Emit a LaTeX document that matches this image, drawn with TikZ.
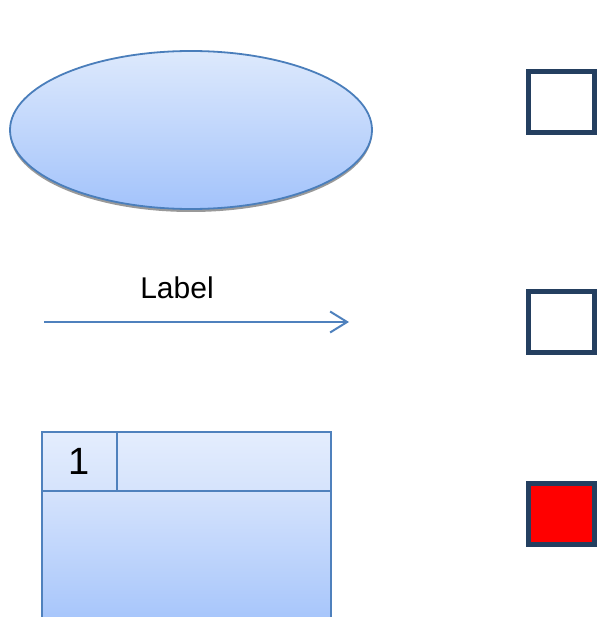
\documentclass[tikz,border=0pt]{standalone}
\usepackage{fontspec}
\setmainfont{Liberation Sans}
\usetikzlibrary{shapes.geometric,shadows,arrows.meta}
\definecolor{umlline}{HTML}{4A7EBB}
\definecolor{umlblue}{HTML}{4F81BD}
\definecolor{navy}{HTML}{243F60}
\definecolor{filltop}{HTML}{DDE9FC}
\definecolor{fillbot}{HTML}{A3C3FB}
\definecolor{headtop}{HTML}{E4EDFD}
\definecolor{headbot}{HTML}{D5E3FC}
\tikzset{
  cell/.style={draw=umlblue, line width=2pt, rectangle, inner sep=0pt, outer sep=0pt, anchor=north west},
  swatch/.style={draw=navy, line width=5pt, rectangle, fill=white, minimum width=66pt, minimum height=61pt}
}
\begin{document}
\begin{tikzpicture}[x=1pt,y=-1pt]
		
		\useasboundingbox (0,0) rectangle (597,617);
		\clip (0,0) rectangle (597,617);
		
		% use case ellipse
		\node[ellipse, draw=umlline, line width=1.8pt, minimum width=362pt, minimum height=158pt,
		      top color=filltop, bottom color=fillbot,
		      drop shadow={shadow xshift=0pt, shadow yshift=-3pt, fill=gray, opacity=0.8}] (usecase) at (191,130) {};
		
		% association with label
		\coordinate (src) at (44,322);
		\coordinate (dst) at (349,322);
		\draw[umlblue, line width=2pt, -{Straight Barb[length=17pt,width=21pt]}] (src) -- (dst);
		\node[anchor=base, inner sep=0pt] (lbl) at (177,298) {\fontsize{30}{36}\selectfont Label};
		
		% table
		\node[cell, minimum width=75pt, minimum height=59pt, top color=headtop, bottom color=headbot] (num) at (42,432) {\fontsize{38}{44}\selectfont 1};
		\node[cell, minimum width=214pt, minimum height=59pt, top color=headtop, bottom color=headbot] (head) at (num.north east) {};
		\node[cell, minimum width=289pt, minimum height=140pt, top color=headbot, bottom color=fillbot] (body) at (num.south west) {};
		
		% swatches
		\node[swatch] (box1) at (561.5,102) {};
		\node[swatch] (box2) at (561.5,321.5) {};
		\node[swatch, fill=red] (box3) at (561.5,513.5) {};
		
\end{tikzpicture}
\end{document}
